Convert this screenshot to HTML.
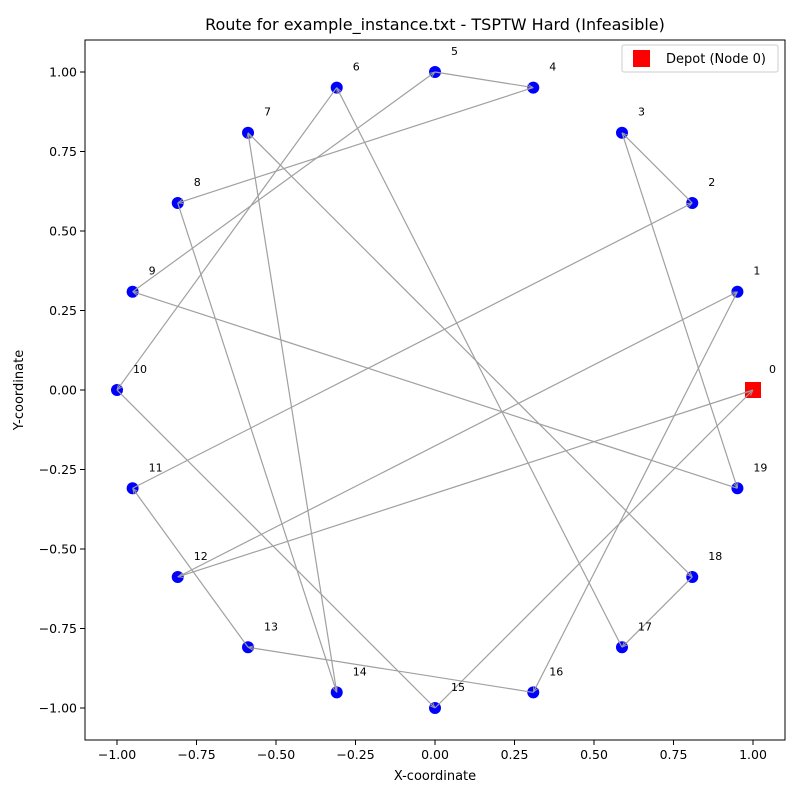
<!DOCTYPE html>
<html><head><meta charset="utf-8"><style>
html,body{margin:0;padding:0;background:#fff}
svg text{font-family:"DejaVu Sans","Liberation Sans",sans-serif}
</style></head><body>
<svg id="chart" width="800" height="800" xmlns="http://www.w3.org/2000/svg">
<defs><marker id="arr" viewBox="0 0 10 10" refX="10" refY="5" markerWidth="5" markerHeight="5" orient="auto"><path d="M0,1 L10,5 L0,9" fill="none" stroke="#999" stroke-width="1.5"/></marker></defs>
<rect width="800" height="800" fill="#fff"/>
<text x="435" y="30" text-anchor="middle" font-size="16">Route for example_instance.txt - TSPTW Hard (Infeasible)</text>
<g id="nodes"></g>
<g id="edges"></g>
<g id="labels"></g>
<rect x="85" y="40" width="700" height="700" fill="none" stroke="#000" stroke-width="1"/>
<g id="ticks"></g>
<text x="435" y="780" text-anchor="middle" font-size="13">X-coordinate</text>
<text x="23" y="390" text-anchor="middle" font-size="13" transform="rotate(-90 23 390)">Y-coordinate</text>
<g>
<rect x="622" y="45" width="156" height="27" rx="2" fill="#fff" stroke="#ccc"/>
<rect x="633" y="50" width="17" height="17" fill="#ff0000"/>
<text x="666" y="63" font-size="13">Depot (Node 0)</text>
</g>
</svg>
<script>
const nodeIds = [0,1,2,3,4,5,6,7,8,9,10,11,12,13,14,15,16,17,18,19];
const nodeX = [1.0,0.951,0.809,0.588,0.309,0.0,-0.309,-0.588,-0.809,-0.951,-1.0,-0.951,-0.809,-0.588,-0.309,0.0,0.309,0.588,0.809,0.951];
const nodeY = [0.0,0.309,0.588,0.809,0.951,1.0,0.951,0.809,0.588,0.309,0.0,-0.309,-0.588,-0.809,-0.951,-1.0,-0.951,-0.809,-0.588,-0.309];
const route = [0,12,1,16,13,11,2,3,19,9,5,4,8,14,7,18,17,6,10,15,0];
const tickVals = [-1.00,-0.75,-0.50,-0.25,0.00,0.25,0.50,0.75,1.00];

const NS="http://www.w3.org/2000/svg";
const xs = v => 435 + v*318;
const ys = v => 390 - v*318;
function mk(tag, attrs, parent){const e=document.createElementNS(NS,tag);for(const k in attrs)e.setAttribute(k,attrs[k]);document.getElementById(parent).appendChild(e);return e;}

for(let i=0;i<route.length-1;i++){
  const a=route[i], b=route[i+1];
  const x1=xs(nodeX[a]), y1=ys(nodeY[a]), x2=xs(nodeX[b]), y2=ys(nodeY[b]);
  const l=mk('line',{x1:x1,y1:y1,x2:x2,y2:y2,stroke:'#a0a0a0','stroke-width':1.2,'marker-end':'url(#arr)'},'edges');
  
  
}
nodeIds.forEach((id,i)=>{
  const cx=xs(nodeX[i]), cy=ys(nodeY[i]);
  let m;
  if(id===0){
    m=mk('rect',{x:cx-8,y:cy-8,width:16,height:16,fill:'#ff0000'},'nodes');
    
  } else {
    m=mk('circle',{cx:cx,cy:cy,r:6,fill:'#0000ff'},'nodes');
    
  }
  
  const t=mk('text',{x:cx+16,y:cy-17,'font-size':11},'labels');
  t.textContent=String(id);
  
  
});
tickVals.forEach(v=>{
  const x=xs(v);
  const tl=mk('line',{x1:x,y1:740,x2:x,y2:745,stroke:'#000'},'ticks');
  
  
  const tx=mk('text',{x:x,y:759,'text-anchor':'middle','font-size':12.5},'ticks');
  tx.textContent=v.toFixed(2).replace('-','\u2212');
  
  
  const y=ys(v);
  const yl=mk('line',{x1:80,y1:y,x2:85,y2:y,stroke:'#000'},'ticks');
  
  
  const ty=mk('text',{x:77,y:y+4.5,'text-anchor':'end','font-size':12.5},'ticks');
  ty.textContent=v.toFixed(2).replace('-','\u2212');
  
  
});
</script>
</body></html>
